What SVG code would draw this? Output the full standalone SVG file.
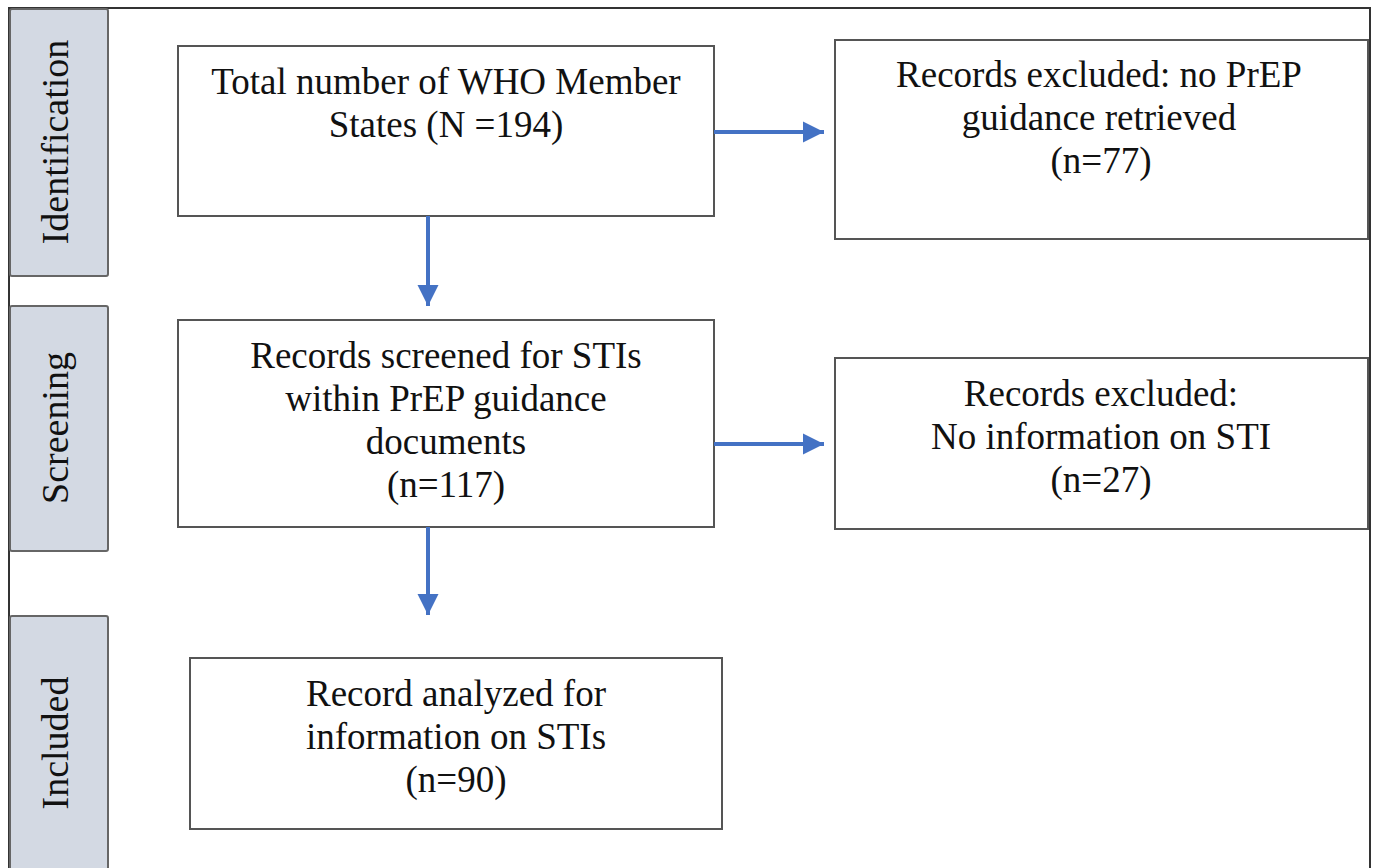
<svg xmlns="http://www.w3.org/2000/svg" width="1373" height="868" viewBox="0 0 1373 868">
  <defs>
    <style>
      .frame { fill: none; stroke: #333; stroke-width: 2; }
      .stage { fill: #D3D9E3; stroke: #666; stroke-width: 2; }
      .box { fill: #fff; stroke: #555; stroke-width: 2; }
      .lbl { font-family: "Liberation Serif", "Times New Roman", serif; font-size: 37px; fill: #111; text-anchor: middle; }
      .stage-lbl { font-family: "Liberation Serif", "Times New Roman", serif; font-size: 38px; fill: #111; text-anchor: middle; }
      .conn { stroke: #4472C4; stroke-width: 4; fill: none; }
    </style>
    <marker id="ah" viewBox="0 0 10 10" refX="10" refY="5" markerUnits="userSpaceOnUse" markerWidth="21" markerHeight="22" orient="auto">
      <path d="M0,0 L10,5 L0,10 Z" fill="#4472C4"/>
    </marker>
  </defs>

  <rect width="1373" height="868" fill="#fff"/>

  <!-- outer frame (open at the bottom) -->
  <path class="frame" d="M9,868 L9,8 L1370,8 L1370,868"/>

  <!-- stage bands -->
  <g id="stage-identification">
    <rect class="stage" x="10" y="9" width="98" height="267" rx="2"/>
    <text class="stage-lbl" transform="translate(68,142) rotate(-90)">Identification</text>
  </g>
  <g id="stage-screening">
    <rect class="stage" x="10" y="306" width="98" height="245" rx="2"/>
    <text class="stage-lbl" transform="translate(68,428) rotate(-90)">Screening</text>
  </g>
  <g id="stage-included">
    <rect class="stage" x="10" y="616" width="98" height="262" rx="2"/>
    <text class="stage-lbl" transform="translate(68,743) rotate(-90)">Included</text>
  </g>

  <!-- flow boxes -->
  <g id="total">
    <rect class="box" x="178" y="46" width="536" height="170"/>
    <text class="lbl" x="446" y="94">Total number of WHO Member</text>
    <text class="lbl" x="446" y="137">States (N =194)</text>
  </g>
  <g id="excluded-noprep">
    <rect class="box" x="835" y="40" width="533" height="199"/>
    <text class="lbl" x="1099" y="87">Records excluded: no PrEP</text>
    <text class="lbl" x="1099" y="130">guidance retrieved</text>
    <text class="lbl" x="1101" y="173">(n=77)</text>
  </g>
  <g id="screened">
    <rect class="box" x="178" y="320" width="536" height="207"/>
    <text class="lbl" x="446" y="368">Records screened for STIs</text>
    <text class="lbl" x="446" y="411">within PrEP guidance</text>
    <text class="lbl" x="446" y="454">documents</text>
    <text class="lbl" x="446" y="497">(n=117)</text>
  </g>
  <g id="excluded-nosti">
    <rect class="box" x="835" y="358" width="533" height="171"/>
    <text class="lbl" x="1101" y="406">Records excluded:</text>
    <text class="lbl" x="1101" y="449">No information on STI</text>
    <text class="lbl" x="1101" y="492">(n=27)</text>
  </g>
  <g id="included">
    <rect class="box" x="190" y="658" width="532" height="171"/>
    <text class="lbl" x="456" y="706">Record analyzed for</text>
    <text class="lbl" x="456" y="749">information on STIs</text>
    <text class="lbl" x="456" y="792">(n=90)</text>
  </g>

  <!-- connectors -->
  <g id="connectors">
    <line class="conn" x1="714" y1="132" x2="824" y2="132" marker-end="url(#ah)"/>
    <line class="conn" x1="428" y1="216" x2="428" y2="306" marker-end="url(#ah)"/>
    <line class="conn" x1="714" y1="444" x2="824" y2="444" marker-end="url(#ah)"/>
    <line class="conn" x1="428" y1="527" x2="428" y2="615" marker-end="url(#ah)"/>
  </g>
</svg>
